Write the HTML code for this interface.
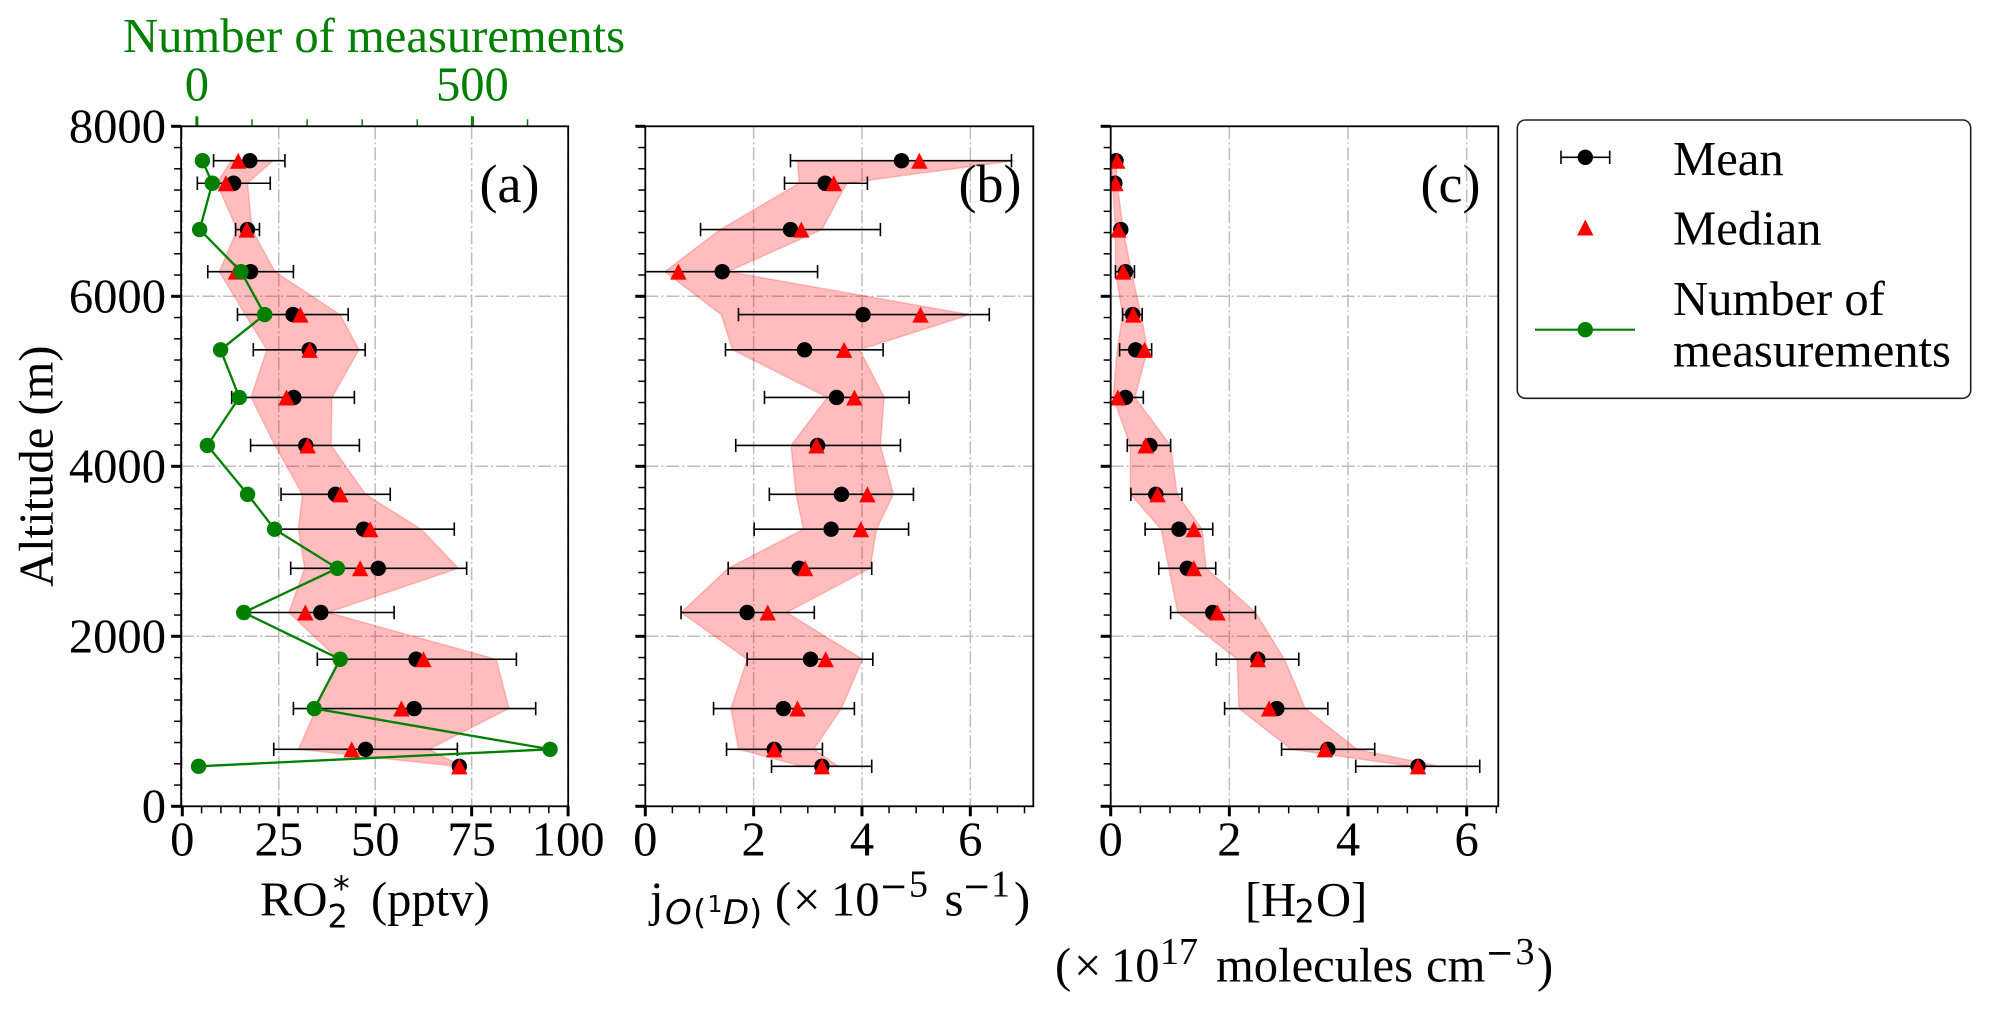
<!DOCTYPE html>
<html lang="en">
<head>
<meta charset="utf-8">
<title>Vertical profiles of RO2*, jO(1D) and H2O</title>
<style>
html,body{margin:0;padding:0;background:#fff;}
#figure{display:block;width:1989px;height:1010px;}
text{font-family:"Liberation Serif",serif;fill:#000;}
.tick{font-size:48.6px;}
.lab{font-size:48.6px;}
.sup{font-size:38px;}
.math{font-family:"DejaVu Sans",sans-serif;}
.green{fill:#008000;}
</style>
</head>
<body>
<svg id="figure" xmlns="http://www.w3.org/2000/svg" width="1989" height="1010" viewBox="0 0 1989 1010">
  <rect width="1989" height="1010" fill="#fff"/>
  <defs>
    <clipPath id="clip-a"><rect x="181.1" y="126.3" width="387.1" height="680"/></clipPath>
    <clipPath id="clip-b"><rect x="645.3" y="126.3" width="388" height="680"/></clipPath>
    <clipPath id="clip-c"><rect x="1110.7" y="126.3" width="387.6" height="680"/></clipPath>
  </defs>
  <g id="panel-a"></g>
  <g id="panel-b"></g>
  <g id="panel-c"></g>

  <text class="lab green" x="123" y="52">Number of measurements</text>
  <text class="lab" transform="translate(52.6,587) rotate(-90)">Altitude (m)</text>

  <text style="font-size:54px" x="479.5" y="202">(a)</text>
  <text style="font-size:54px" x="958.5" y="202">(b)</text>
  <text style="font-size:54px" x="1420.5" y="202">(c)</text>

  <g>
    <text class="lab" x="260" y="915.7">RO</text>
    <text class="math" style="font-size:32px" x="327.5" y="927.7">2</text>
    <text class="math" style="font-size:33.6px" x="333" y="900">*</text>
    <text class="lab" x="371" y="915.7">(pptv)</text>
  </g>

  <g>
    <text class="lab" x="650" y="915.7">j</text>
    <text class="math" style="font-size:34px;font-style:italic" x="665" y="924">O</text>
    <text class="math" style="font-size:34px" x="693" y="924">(</text>
    <text class="math" style="font-size:23.5px" x="707.5" y="912">1</text>
    <text class="math" style="font-size:34px;font-style:italic" x="723" y="924">D</text>
    <text class="math" style="font-size:34px" x="749" y="924">)</text>
    <text class="lab" x="775" y="915.7">(</text>
    <text class="lab" x="793" y="915.7">×</text>
    <text class="lab" x="831" y="915.7">10</text>
    <text class="math" style="font-size:34px" x="879.5" y="897.7">−</text>
    <text class="sup" x="909" y="896.7">5</text>
    <text class="lab" x="944.5" y="915.7">s</text>
    <text class="math" style="font-size:34px" x="962.5" y="897.7">−</text>
    <text class="sup" x="991" y="896.7">1</text>
    <text class="lab" x="1014" y="915.7">)</text>
  </g>

  <g>
    <text class="lab" x="1245" y="916">[H</text>
    <text class="math" style="font-size:32px" x="1294.5" y="922.7">2</text>
    <text class="lab" x="1316" y="916">O]</text>
    <text class="lab" x="1055" y="981.7">(</text>
    <text class="lab" x="1074" y="981.7">×</text>
    <text class="lab" x="1111" y="981.7">10</text>
    <text class="sup" x="1160" y="964">17</text>
    <text class="lab" x="1216" y="981.7">molecules</text>
    <text class="lab" x="1426" y="981.7">cm</text>
    <text class="math" style="font-size:34px" x="1485.5" y="964">−</text>
    <text class="sup" x="1515.5" y="964">3</text>
    <text class="lab" x="1537" y="981.7">)</text>
  </g>

  <g>
    <rect x="1517.3" y="120" width="453.4" height="278.3" rx="8" ry="8" fill="#fff" stroke="#222" stroke-width="1.6"/>
    <g>
      <line x1="1561" x2="1609.7" y1="157.3" y2="157.3" stroke="#000" stroke-width="1.6"/>
      <line x1="1561" x2="1561" y1="150.6" y2="164" stroke="#000" stroke-width="1.6"/>
      <line x1="1609.7" x2="1609.7" y1="150.6" y2="164" stroke="#000" stroke-width="1.6"/>
      <circle cx="1585.3" cy="157.3" r="7.7" fill="#000"/>
      <text class="lab" x="1673" y="175">Mean</text>
    </g>
    <g>
      <polygon points="1585.3,219.5 1577.1,235.5 1593.5,235.5" fill="#f00"/>
      <text class="lab" x="1673" y="244.3">Median</text>
    </g>
    <g>
      <line x1="1535" x2="1635" y1="329.7" y2="329.7" stroke="#008000" stroke-width="2.2"/>
      <circle cx="1585.3" cy="329.7" r="7.7" fill="#008000"/>
      <text class="lab" x="1673" y="315">Number of</text>
      <text class="lab" x="1673" y="366.7">measurements</text>
    </g>
  </g>
</svg>

<script>
// Shared altitude levels (m), top to bottom
var altitudes = [7595,7330,6785,6290,5785,5370,4810,4245,3670,3260,2800,2280,1730,1150,670,470];

// Panel (a) RO2* (pptv)
var ro2Mean     = [17.5,13.3,16.9,17.7,28.7,32.9,28.9,32.0,39.7,47.0,50.8,35.9,60.6,60.1,47.5,71.8];
var ro2Median   = [14.5,11.3,16.7,13.9,30.6,33.0,27.0,32.5,41.0,48.7,46.1,31.9,62.5,56.8,43.9,71.8];
var ro2ErrLow   = [8.1,3.9,13.8,6.6,14.3,18.4,12.8,17.7,25.6,23.5,28.1,16.9,35.0,28.8,23.7,71.8];
var ro2ErrHigh  = [26.6,22.8,20.0,28.8,43.0,47.4,44.6,45.9,53.9,70.5,73.7,54.9,86.6,91.6,71.3,71.8];
var ro2BandLow  = [12.7,8.9,14.2,9.6,16.3,21.9,17.8,24.0,31.1,30.1,31.7,27.6,40.4,34.7,30.1,71.0];
var ro2BandHigh = [23.5,16.9,18.1,24.0,40.9,45.8,38.8,38.6,47.5,61.9,71.6,37.8,81.4,84.7,63.9,72.6];

// Panel (a) number of measurements (top axis)
var measurementCounts = [10,28,5,80,123,43,77,19,92,141,255,85,260,213,641,3];

// Panel (b) jO(1D) (x 10^-5 s^-1)
var jMean     = [4.73,3.32,2.68,1.42,4.02,2.94,3.53,3.18,3.62,3.43,2.84,1.88,3.05,2.55,2.38,3.26];
var jMedian   = [5.06,3.48,2.88,0.61,5.08,3.67,3.86,3.16,4.10,3.98,2.95,2.26,3.33,2.81,2.38,3.26];
var jErrLow   = [2.68,2.57,1.02,-0.34,1.72,1.48,2.20,1.67,2.29,2.01,1.53,0.66,1.88,1.26,1.50,2.33];
var jErrHigh  = [6.76,4.10,4.34,3.18,6.35,4.39,4.87,4.71,4.95,4.86,4.18,3.12,4.20,3.86,3.27,4.18];
var jBandLow  = [2.81,2.84,1.38,0.36,1.40,1.61,3.36,2.69,2.78,2.92,1.53,0.66,1.88,1.58,1.72,2.89];
var jBandHigh = [6.81,3.72,3.26,1.53,5.99,3.96,4.41,4.34,4.58,4.27,4.15,2.61,4.01,3.62,3.11,3.56];

// Panel (c) [H2O] (x 10^17 molecules cm^-3)
var h2oMean     = [0.09,0.07,0.17,0.25,0.37,0.42,0.25,0.66,0.76,1.15,1.29,1.72,2.48,2.80,3.66,5.18];
var h2oMedian   = [0.11,0.08,0.13,0.21,0.38,0.57,0.12,0.59,0.79,1.40,1.40,1.80,2.48,2.67,3.61,5.18];
var h2oErrLow   = [0.06,0.04,0.12,0.08,0.20,0.15,-0.05,0.28,0.34,0.58,0.81,1.01,1.78,1.92,2.88,4.13];
var h2oErrHigh  = [0.12,0.10,0.22,0.40,0.53,0.69,0.55,1.01,1.20,1.72,1.77,2.44,3.17,3.66,4.45,6.22];
var h2oBandLow  = [0.02,0.03,0.08,0.08,0.20,0.11,0.04,0.33,0.33,0.85,0.98,1.13,2.13,2.16,3.04,5.05];
var h2oBandHigh = [0.09,0.11,0.21,0.35,0.51,0.62,0.41,1.01,1.12,1.54,1.61,2.44,2.93,3.28,4.15,5.53];

// Tick values and labels
var yMajorTicks = [0,2000,4000,6000,8000];
var yMinorStep = 250;
var ro2Ticks = [0,25,50,75,100];
var ro2MinorStep = 5;
var jTicks = [0,2,4,6];
var h2oTicks = [0,2,4,6];
var concMinorStep = 0.5;
var countMajorTicks = [0,500];
var countMinorTicks = [100,200,300,400,600];

var NS = 'http://www.w3.org/2000/svg';

// Axis functions
function yAlt(a){ return 806.3 - a*0.085; }
function xRo2(v){ return 182.3 + v*3.858; }
function xJ(v){ return 645.3 + v*54.17; }
function xH2o(v){ return 1110.7 + v*59.33; }
function xCount(n){ return 196.9 + n*0.551; }

function make(parent, tag, attrs){
  var el = document.createElementNS(NS, tag);
  for (var k in attrs) { el.setAttribute(k, attrs[k]); }
  parent.appendChild(el);
  return el;
}

function drawPanel(panelId, clipId, left, right, xScale, xTicks, minorStep, xMax, labelYTicks, band, mean, median, errLow, errHigh){
  var root = document.getElementById(panelId);
  var top = yAlt(8000), bottom = yAlt(0);
  var i, v, el;

  var plot = make(root, 'g', {'clip-path':'url(#'+clipId+')'});
  
  

  // grid
  for (i = 0; i < xTicks.length; i++) {
    el = make(plot, 'line', {x1:xScale(xTicks[i]), x2:xScale(xTicks[i]), y1:top, y2:bottom, stroke:'#bdbdbd', 'stroke-width':1.5, 'stroke-dasharray':'13 3 2 3'});
    
    
  }
  for (i = 0; i < yMajorTicks.length; i++) {
    if (yMajorTicks[i] === 0 || yMajorTicks[i] === 8000) continue;
    el = make(plot, 'line', {x1:left, x2:right, y1:yAlt(yMajorTicks[i]), y2:yAlt(yMajorTicks[i]), stroke:'#bdbdbd', 'stroke-width':1.5, 'stroke-dasharray':'13 3 2 3'});
    
    
  }

  // interquartile band
  var pts = [];
  for (i = 0; i < altitudes.length; i++) pts.push(xScale(band[0][i]).toFixed(1)+','+yAlt(altitudes[i]).toFixed(1));
  for (i = altitudes.length-1; i >= 0; i--) pts.push(xScale(band[1][i]).toFixed(1)+','+yAlt(altitudes[i]).toFixed(1));
  el = make(plot, 'polygon', {points:pts.join(' '), fill:'#ff0000', 'fill-opacity':0.26, stroke:'#ff0000', 'stroke-opacity':0.2, 'stroke-width':1.5});
  
  

  // error bars
  for (i = 0; i < altitudes.length; i++) {
    var y = yAlt(altitudes[i]);
    var xl = xScale(errLow[i]), xh = xScale(errHigh[i]);
    el = make(plot, 'path', {d:'M'+xl+' '+y+'H'+xh+'M'+xl+' '+(y-6.7)+'V'+(y+6.7)+'M'+xh+' '+(y-6.7)+'V'+(y+6.7), stroke:'#000', 'stroke-width':1.6, fill:'none'});
    
    
  }
  // mean markers
  for (i = 0; i < altitudes.length; i++) {
    el = make(plot, 'circle', {cx:xScale(mean[i]), cy:yAlt(altitudes[i]), r:7.7, fill:'#000'});
    
    
  }
  // median markers
  for (i = 0; i < altitudes.length; i++) {
    var mx = xScale(median[i]), my = yAlt(altitudes[i]);
    el = make(plot, 'polygon', {points:mx+','+(my-8)+' '+(mx-8.2)+','+(my+8)+' '+(mx+8.2)+','+(my+8), fill:'#f00'});
    
    
  }

  // y ticks
  for (v = 0; v <= 8000; v += yMinorStep) {
    var major = v % 2000 === 0;
    el = make(root, 'line', {x1:left-(major?10:7), x2:left, y1:yAlt(v), y2:yAlt(v), stroke:'#000', 'stroke-width':major?3:1.5});
    
    
  }
  if (labelYTicks) {
    for (i = 0; i < yMajorTicks.length; i++) {
      el = make(root, 'text', {'class':'tick', x:166, y:yAlt(yMajorTicks[i])+16.4, 'text-anchor':'end'});
      
      
      el.textContent = String(yMajorTicks[i]);
    }
  }

  // x ticks
  for (v = 0; v <= xMax + 1e-6; v += minorStep) {
    var isMajor = xTicks.some(function(t){ return Math.abs(t - v) < 1e-6; });
    el = make(root, 'line', {x1:xScale(v), x2:xScale(v), y1:bottom, y2:bottom+(isMajor?10:7), stroke:'#000', 'stroke-width':isMajor?3:1.5});
    
    
  }
  for (i = 0; i < xTicks.length; i++) {
    el = make(root, 'text', {'class':'tick', x:xScale(xTicks[i]), y:855.7, 'text-anchor':'middle'});
    
    
    el.textContent = String(xTicks[i]);
  }
  return root;
}

function drawSpines(root, left, right){
  var el = make(root, 'rect', {x:left, y:yAlt(8000), width:right-left, height:680, fill:'none', stroke:'#000', 'stroke-width':1.8});
  
  
}

var rootA = drawPanel('panel-a','clip-a',181.1,568.2,xRo2,ro2Ticks,ro2MinorStep,100,true,[ro2BandLow,ro2BandHigh],ro2Mean,ro2Median,ro2ErrLow,ro2ErrHigh);
var rootB = drawPanel('panel-b','clip-b',645.3,1033.3,xJ,jTicks,concMinorStep,7.1,false,[jBandLow,jBandHigh],jMean,jMedian,jErrLow,jErrHigh);
var rootC = drawPanel('panel-c','clip-c',1110.7,1498.3,xH2o,h2oTicks,concMinorStep,6.5,false,[h2oBandLow,h2oBandHigh],h2oMean,h2oMedian,h2oErrLow,h2oErrHigh);

// number of measurements series on twin top axis of panel (a)
(function(){
  var i, el, pts = [];
  var series = make(rootA, 'g', {'clip-path':'url(#clip-a)'});
  
  
  for (i = 0; i < altitudes.length; i++) pts.push(xCount(measurementCounts[i]).toFixed(1)+','+yAlt(altitudes[i]).toFixed(1));
  el = make(series, 'polyline', {points:pts.join(' '), fill:'none', stroke:'#008000', 'stroke-width':2.3});
  
  
  for (i = 0; i < altitudes.length; i++) {
    el = make(series, 'circle', {cx:xCount(measurementCounts[i]), cy:yAlt(altitudes[i]), r:7.7, fill:'#008000'});
    
    
  }
  var top = yAlt(8000);
  for (i = 0; i < countMinorTicks.length; i++) {
    el = make(rootA, 'line', {x1:xCount(countMinorTicks[i]), x2:xCount(countMinorTicks[i]), y1:top, y2:top-7, stroke:'#008000', 'stroke-width':1.5});
    
    
  }
  for (i = 0; i < countMajorTicks.length; i++) {
    el = make(rootA, 'line', {x1:xCount(countMajorTicks[i]), x2:xCount(countMajorTicks[i]), y1:top, y2:top-10, stroke:'#008000', 'stroke-width':3});
    
    
    el = make(rootA, 'text', {'class':'tick green', x:xCount(countMajorTicks[i]), y:100.7, 'text-anchor':'middle'});
    
    
    el.textContent = String(countMajorTicks[i]);
  }
})();

drawSpines(rootA,181.1,568.2);
drawSpines(rootB,645.3,1033.3);
drawSpines(rootC,1110.7,1498.3);
</script>
</body>
</html>
